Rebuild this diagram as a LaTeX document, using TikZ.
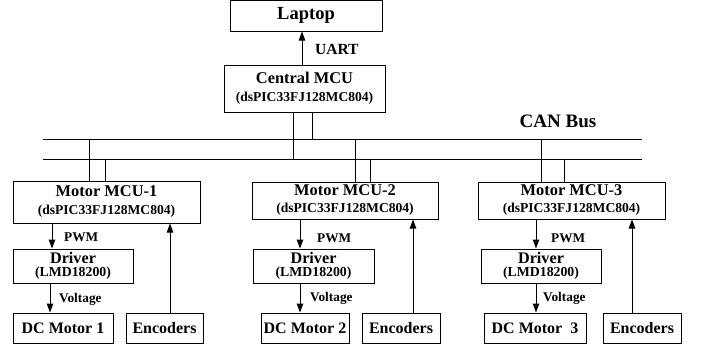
\documentclass[tikz,border=0pt]{standalone}
\usepackage{fontspec}
\setmainfont{Liberation Serif}
\usetikzlibrary{arrows.meta,calc}
\newcommand{\fs}[1]{\fontsize{#1}{#1}\selectfont}
\begin{document}
\begin{tikzpicture}[x=1pt,y=-1pt,
  lw/.style={line width=1pt},
  bx/.style={draw,lw,inner sep=0pt,align=center,font=\bfseries},
  arr/.style={lw,-{Triangle[length=9pt,width=6.5pt]}},
  lbl/.style={inner sep=0pt,anchor=west,font=\bfseries\fs{13.3}}]
\useasboundingbox (0,0) rectangle (704,351);
% boxes
\node[bx,minimum width=152pt,minimum height=30.5pt] (lap) at (306,15.75) {\fs{18.5}Laptop};
\node[bx,minimum width=161pt,minimum height=47pt] (cen) at (304.5,88.5)
  {\fs{16.4}Central MCU\\[6pt]\fs{13.6}(dsPIC33FJ128MC804)};
\node[bx,minimum width=187pt,minimum height=42pt] (m1) at (106.5,202)
  {\fs{16.4}Motor MCU-1\\[6pt]\fs{13.6}(dsPIC33FJ128MC804)};
\node[bx,minimum width=186pt,minimum height=37pt] (m2) at (345,200.5)
  {\fs{16.4}Motor MCU-2\\[5pt]\fs{13.6}(dsPIC33FJ128MC804)};
\node[bx,minimum width=187pt,minimum height=37pt] (m3) at (571.5,200.5)
  {\fs{16.4}Motor MCU-3\\[5pt]\fs{13.6}(dsPIC33FJ128MC804)};
\node[bx,minimum width=120pt,minimum height=34pt] (d1) at (73,266)
  {\fs{16.2}Driver\\[1pt]\fs{13.8}(LMD18200)};
\node[bx,minimum width=121pt,minimum height=34pt] (d2) at (313.5,266)
  {\fs{16.2}Driver\\[1pt]\fs{13.8}(LMD18200)};
\node[bx,minimum width=120pt,minimum height=34pt] (d3) at (541,266)
  {\fs{16.2}Driver\\[1pt]\fs{13.8}(LMD18200)};
\node[bx,minimum width=100pt,minimum height=30pt] (dc1) at (63,328) {\fs{16}DC Motor 1};
\node[bx,minimum width=88pt,minimum height=30pt] (dc2) at (305,328) {\fs{16}DC Motor 2};
\node[bx,minimum width=102pt,minimum height=30pt] (dc3) at (535,328) {\fs{16}DC Motor\ \ 3};
\node[bx,minimum width=77pt,minimum height=30pt] (e1) at (164.5,328) {\fs{16}Encoders};
\node[bx,minimum width=78pt,minimum height=30pt] (e2) at (401,328) {\fs{16}Encoders};
\node[bx,minimum width=78pt,minimum height=30pt] (e3) at (642,328) {\fs{16}Encoders};
% bus
\coordinate (bul) at (43,139);
\coordinate (bur) at (642,139);
\coordinate (bll) at (43,159);
\coordinate (blr) at (642,159);
\draw[lw] (bul) -- (bur);
\draw[lw] (bll) -- (blr);
\node[inner sep=0pt,font=\bfseries\fs{19}] (can) at (558,121) {CAN Bus};
% bus drops
\draw[lw] ([xshift=-11.5pt]cen.south) -- ([xshift=-11.5pt]cen.south |- bll);
\draw[lw] ([xshift=7.5pt]cen.south) -- ([xshift=7.5pt]cen.south |- bul);
\draw[lw] ([xshift=-17.5pt]m1.north) -- ([xshift=-17.5pt]m1.north |- bul);
\draw[lw] ([xshift=-1.5pt]m1.north) -- ([xshift=-1.5pt]m1.north |- bll);
\draw[lw] ([xshift=10pt]m2.north) -- ([xshift=10pt]m2.north |- bul);
\draw[lw] ([xshift=25pt]m2.north) -- ([xshift=25pt]m2.north |- bll);
\draw[lw] ([xshift=-30.5pt]m3.north) -- ([xshift=-30.5pt]m3.north |- bul);
\draw[lw] ([xshift=-7.5pt]m3.north) -- ([xshift=-7.5pt]m3.north |- bll);
% UART
\draw[arr] ([xshift=-2.5pt]cen.north) -- ([xshift=-4pt]lap.south);
\node[lbl,font=\bfseries\fs{15.5}] (uart) at (315,49) {UART};
% PWM arrows
\coordinate (p1) at (52,0);
\coordinate (p2) at (300,0);
\coordinate (p3) at (536,0);
\draw[arr] (m1.south -| p1) -- (d1.north -| p1);
\draw[arr] (m2.south -| p2) -- (d2.north -| p2);
\draw[arr] (m3.south -| p3) -- (d3.north -| p3);
\node[lbl] (pwm1) at (64,237) {PWM};
\node[lbl] (pwm2) at (317,238) {PWM};
\node[lbl] (pwm3) at (551,238) {PWM};
% Voltage arrows
\coordinate (v1) at (50,0);
\draw[arr] (d1.south -| v1) -- (dc1.north -| v1);
\draw[arr] (d2.south -| p2) -- (dc2.north -| p2);
\draw[arr] (d3.south -| p3) -- (dc3.north -| p3);
\node[lbl] (vol1) at (59,299) {Voltage};
\node[lbl] (vol2) at (310,298) {Voltage};
\node[lbl] (vol3) at (543,298) {Voltage};
% Encoder arrows
\coordinate (q1) at (170,0);
\coordinate (q2) at (413,0);
\coordinate (q3) at (632,0);
\draw[arr] (e1.north -| q1) -- (m1.south -| q1);
\draw[arr] (e2.north -| q2) -- (m2.south -| q2);
\draw[arr] (e3.north -| q3) -- (m3.south -| q3);
\end{tikzpicture}
\end{document}
